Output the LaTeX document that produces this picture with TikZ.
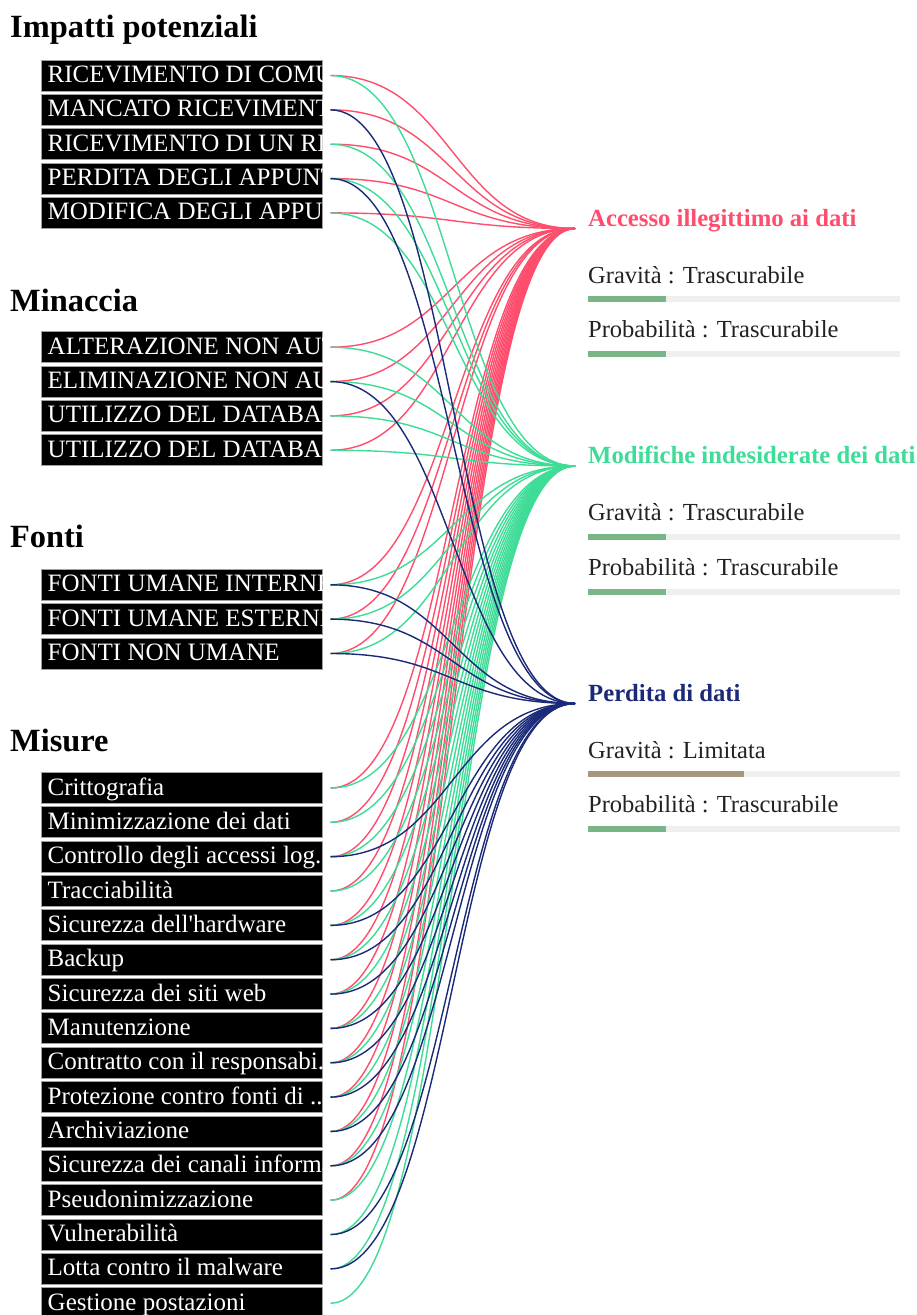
\documentclass[tikz,border=0pt]{standalone}
\usepackage{fontspec}
\setmainfont{Liberation Serif}
\usetikzlibrary{calc}
\definecolor{cred}{HTML}{FF4D6D}
\definecolor{cgreen}{HTML}{3DDC97}
\definecolor{cblue}{HTML}{1B2A78}
\definecolor{boxgray}{HTML}{A0A0A0}
\definecolor{barbg}{HTML}{EFEFEF}
\definecolor{barok}{HTML}{78B688}
\definecolor{barmid}{HTML}{A6967E}
\definecolor{txt}{HTML}{222222}
\tikzset{
  itembox/.style={fill=black,draw=boxgray,line width=1pt,minimum width=281pt,minimum height=31pt,inner sep=0pt},
  itemtext/.style={anchor=base west,text=white,inner sep=0pt,font=\fontsize{25}{27}\selectfont},
  header/.style={anchor=base west,inner sep=0pt,font=\fontsize{32.4}{36}\selectfont\bfseries},
  ttitle/.style={anchor=base west,inner sep=0pt,font=\fontsize{24.7}{27}\selectfont\bfseries},
  tlabel/.style={anchor=base west,inner sep=0pt,text=txt,font=\fontsize{24.5}{27}\selectfont},
  lred/.style={draw=cred,line width=1.4pt},
  lgreen/.style={draw=cgreen,line width=1.4pt},
  lblue/.style={draw=cblue,line width=1.4pt}
}
\newcommand\ibox[3]{%
  \node[itembox] (#1) at (181.5,#2) {};
  \begin{scope}
    \clip (#1.south west) rectangle (#1.north east);
    \node[itemtext] (#1t) at ([xshift=7pt,yshift=-7pt]#1.west) {#3};
  \end{scope}
  \coordinate (#1s) at ([xshift=8pt]#1.east);
}
\newcommand\lnk[3]{\draw[#1] (#2) .. controls ($(#2)+(122,0)$) and ($(#3)+(-122,0)$) .. (#3);}
\newcommand\riskblock[6]{% name, base y, title, colour, gravity text, gravity bar colour
  \node[ttitle,text=#4] (#1) at (588,#2) {#3};
  \node[tlabel] (#1g) at (588,#2+57) {Gravità : #5};
  \fill[barbg] (588,#2+70) rectangle (900,#2+76);
  \fill[#6] (588,#2+70) rectangle +(\csname w#1\endcsname,6);
  \node[tlabel] (#1p) at (588,#2+111.5) {Probabilità : Trascurabile};
  \fill[barbg] (588,#2+125) rectangle (900,#2+131);
  \fill[barok] (588,#2+125) rectangle (666,#2+131);
}
\begin{document}
\begin{tikzpicture}[x=1pt,y=-1pt]
\clip (0,0) rectangle (917,1315);
\fill[white] (0,0) rectangle (917,1315);

% headers
\node[header] (h1) at (10,37) {Impatti potenziali};
\node[header] (h2) at (10,311) {Minaccia};
\node[header] (h3) at (10,547) {Fonti};
\node[header] (h4) at (10,751) {Misure};

% items
\ibox{a1}{75.5}{RICEVIMENTO DI COMUNICAZIONI}
\ibox{a2}{109.85}{MANCATO RICEVIMENTO}
\ibox{a3}{144.2}{RICEVIMENTO DI UN RIFIUTO}
\ibox{a4}{178.55}{PERDITA DEGLI APPUNTI}
\ibox{a5}{212.9}{MODIFICA DEGLI APPUNTI}

\ibox{b1}{347.2}{ALTERAZIONE NON AUTORIZZATA}
\ibox{b2}{381.55}{ELIMINAZIONE NON AUTORIZZATA}
\ibox{b3}{415.9}{UTILIZZO DEL DATABASE}
\ibox{b4}{450.25}{UTILIZZO DEL DATABASE}

\ibox{c1}{584.8}{FONTI UMANE INTERNE}
\ibox{c2}{619.15}{FONTI UMANE ESTERNE}
\ibox{c3}{653.5}{FONTI NON UMANE}

\ibox{d1}{788}{Crittografia}
\ibox{d2}{822.35}{Minimizzazione dei dati}
\ibox{d3}{856.7}{Controllo degli accessi log.}
\ibox{d4}{891.05}{Tracciabilità}
\ibox{d5}{925.4}{Sicurezza dell\textquotesingle hardware}
\ibox{d6}{959.75}{Backup}
\ibox{d7}{994.1}{Sicurezza dei siti web}
\ibox{d8}{1028.45}{Manutenzione}
\ibox{d9}{1062.8}{Contratto con il responsabi...}
\ibox{d10}{1097.15}{Protezione contro fonti di ...}
\ibox{d11}{1131.5}{Archiviazione}
\ibox{d12}{1165.85}{Sicurezza dei canali informatici}
\ibox{d13}{1200.2}{Pseudonimizzazione}
\ibox{d14}{1234.55}{Vulnerabilità}
\ibox{d15}{1268.9}{Lotta contro il malware}
\ibox{d16}{1303.25}{Gestione postazioni}

% risk blocks
\def\wrA{78}\def\wrG{78}\def\wrB{156}
\riskblock{rA}{226}{Accesso illegittimo ai dati}{cred}{Trascurabile}{barok}
\riskblock{rG}{463.5}{Modifiche indesiderate dei dati}{cgreen}{Trascurabile}{barok}
\riskblock{rB}{701}{Perdita di dati}{cblue}{Limitata}{barmid}

\coordinate (tR) at (575,228.5);
\coordinate (tG) at (575,466);
\coordinate (tB) at (575,703.5);

% links
\foreach \n in {a1,a2,a3,a4,a5,b1,b2,b3,b4,c1,c2,c3,d1,d2,d3,d4,d5,d6,d7,d8,d9,d10,d11,d12,d13}
  {\lnk{lred}{\n s}{tR}}
\foreach \n in {a1,a3,a4,a5,b1,b2,b3,b4,c1,c2,c3,d1,d2,d3,d4,d5,d6,d7,d8,d9,d10,d11,d12,d13,d14,d15,d16}
  {\lnk{lgreen}{\n s}{tG}}
\foreach \n in {a2,a4,b2,c1,c2,c3,d3,d5,d6,d7,d8,d9,d10,d11,d12,d14,d15}
  {\lnk{lblue}{\n s}{tB}}
\end{tikzpicture}
\end{document}
